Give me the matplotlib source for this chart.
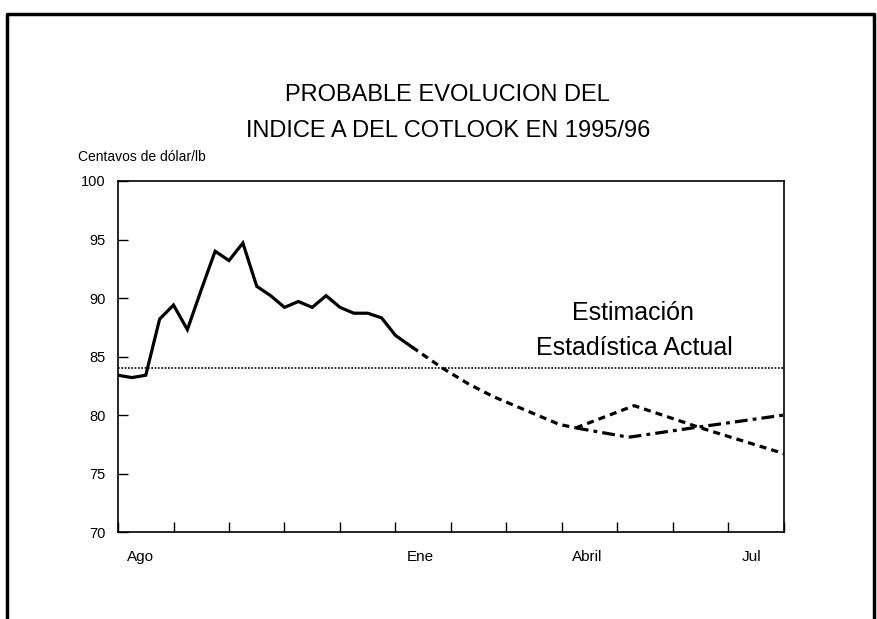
import matplotlib
matplotlib.use("Agg")
import matplotlib.pyplot as plt
from matplotlib.lines import Line2D

plt.rcParams['font.family'] = ['Liberation Sans', 'DejaVu Sans']

# weekly observed values, x in months from start of August
obs_x = [0, 0.25, 0.5, 0.75, 1.0, 1.25, 1.5, 1.75, 2.0, 2.25, 2.5, 2.75,
         3.0, 3.25, 3.5, 3.75, 4.0, 4.25, 4.5, 4.75, 5.0, 5.3]
obs_y = [83.4, 83.2, 83.4, 88.2, 89.4, 87.3, 90.7, 94.0, 93.2, 94.7, 91.0, 90.2,
         89.2, 89.7, 89.2, 90.2, 89.2, 88.7, 88.7, 88.3, 86.8, 85.8]

proj_x = [5.3, 5.85, 6.3, 6.75, 7.2, 7.6, 7.95, 8.25]
proj_y = [85.8, 84.0, 82.7, 81.6, 80.7, 79.9, 79.2, 78.9]

alt_a_x = [8.25, 9.3, 10.5, 12.0]
alt_a_y = [78.9, 80.8, 78.9, 76.7]

alt_b_x = [8.25, 9.2, 10.5, 12.0]
alt_b_y = [78.9, 78.1, 79.0, 80.0]

estimate = 84.0

month_labels = ['Ago', 'Ene', 'Abril', 'Jul']
month_label_pos = [0.41, 5.44, 8.45, 11.42]
y_ticks = [70, 75, 80, 85, 90, 95, 100]

fig = plt.figure(figsize=(8.78, 6.19), dpi=100)
ax = fig.add_axes([0.1344, 0.1405, 0.7585, 0.5671])

ax.axhline(estimate, color='black', lw=1.2, linestyle=(0, (1.0, 1.0)))
ax.plot(obs_x, obs_y, color='black', lw=2.3, solid_joinstyle='miter')
ax.plot(proj_x, proj_y, color='black', lw=2.3, linestyle=(0, (2.2, 1.6)))
ax.plot(alt_a_x, alt_a_y, color='black', lw=2.3, linestyle=(0, (2.2, 1.6)))
ax.plot(alt_b_x, alt_b_y, color='black', lw=2.3, linestyle=(0, (4, 1.6, 1.2, 1.6)))

ax.set_xlim(0, 12)
ax.set_ylim(70, 100)
ax.set_xticks(range(13))
ax.set_xticklabels([])
ax.set_xticks(month_label_pos, minor=True)
ax.set_xticklabels(month_labels, minor=True)
ax.tick_params(axis='x', which='major', direction='in', length=7, width=1)
ax.tick_params(axis='x', which='minor', length=0, pad=13, labelsize=11)
ax.set_yticks(y_ticks)
ax.set_yticklabels([str(v) for v in y_ticks])
ax.tick_params(axis='y', direction='in', length=7, width=1, pad=9, labelsize=10.5)
for s in ax.spines.values():
    s.set_linewidth(1.2)

ax.text(9.28, 88.7, 'Estimación', ha='center', va='center', fontsize=18)
ax.text(9.3, 85.7, 'Estadística Actual', ha='center', va='center', fontsize=18)

fig.text(0.510, 0.8465, 'PROBABLE EVOLUCION DEL', ha='center', va='center', fontsize=17)
fig.text(0.510, 0.788, 'INDICE A DEL COTLOOK EN 1995/96', ha='center', va='center', fontsize=17)
fig.text(0.0888, 0.746, 'Centavos de dólar/lb', ha='left', va='center', fontsize=10)

# frame around the page (no bottom edge)
fig.add_artist(Line2D([0.008, 0.008, 0.9955, 0.9955], [0.0, 0.977, 0.977, 0.0],
                      transform=fig.transFigure, color='black', lw=2.5))

fig.savefig('out.png', dpi=100)
